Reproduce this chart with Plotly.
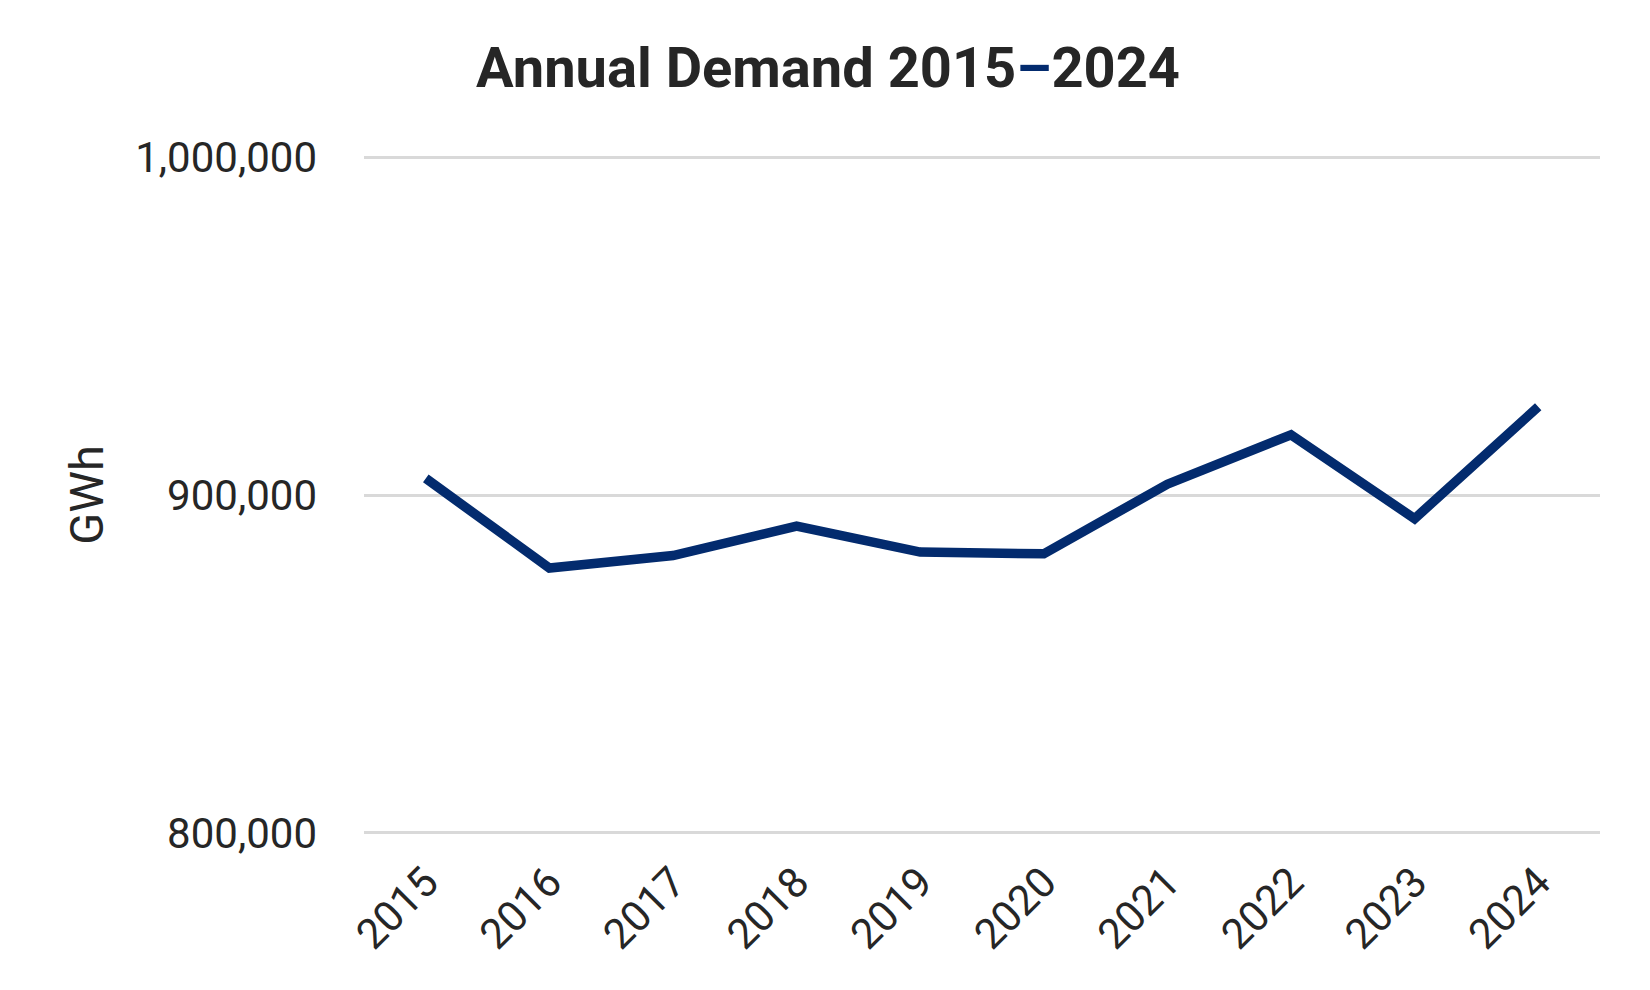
import plotly.graph_objects as go

years = ["2015", "2016", "2017", "2018", "2019", "2020", "2021", "2022", "2023", "2024"]
demand_gwh = [904900, 878400, 882100, 890800, 883100, 882600, 903200, 917800, 893000, 926100]

y_ticks = [800000, 900000, 1000000]
y_tick_labels = ["800,000", "900,000", "1,000,000"]

navy = "#032b6e"
text_color = "#262626"

fig = go.Figure()
fig.add_trace(go.Scatter(
    x=years,
    y=demand_gwh,
    mode="lines",
    line=dict(color=navy, width=9.5),
    showlegend=False,
))

fig.update_layout(
    width=1650,
    height=990,
    paper_bgcolor="white",
    plot_bgcolor="white",
    margin=dict(l=356, r=58, t=148, b=164),
    font=dict(family="Roboto", color=text_color),
    title=dict(
        text="<b>Annual Demand 2015<span style='color:%s'>–</span>2024</b>" % navy,
        x=0.497,
        xref="container",
        xanchor="center",
        y=0.94,
        yref="container",
        yanchor="middle",
        font=dict(family="Roboto", size=56, color=text_color),
    ),
)

fig.update_xaxes(
    type="category",
    range=[-0.5, 9.5],
    tickangle=-45,
    tickfont=dict(size=42, color=text_color),
    ticklabelstandoff=14,
    showgrid=False,
    showline=False,
    zeroline=False,
)

fig.update_yaxes(
    range=[799700, 1000300],
    tickvals=y_ticks,
    ticktext=y_tick_labels,
    tickfont=dict(size=42, color=text_color),
    ticklabelstandoff=46,
    showgrid=True,
    gridcolor="#d9d9d9",
    gridwidth=3,
    zeroline=False,
    showline=False,
    title=dict(text="GWh", font=dict(size=47, color=text_color), standoff=16),
)

fig.write_html("out.html")
